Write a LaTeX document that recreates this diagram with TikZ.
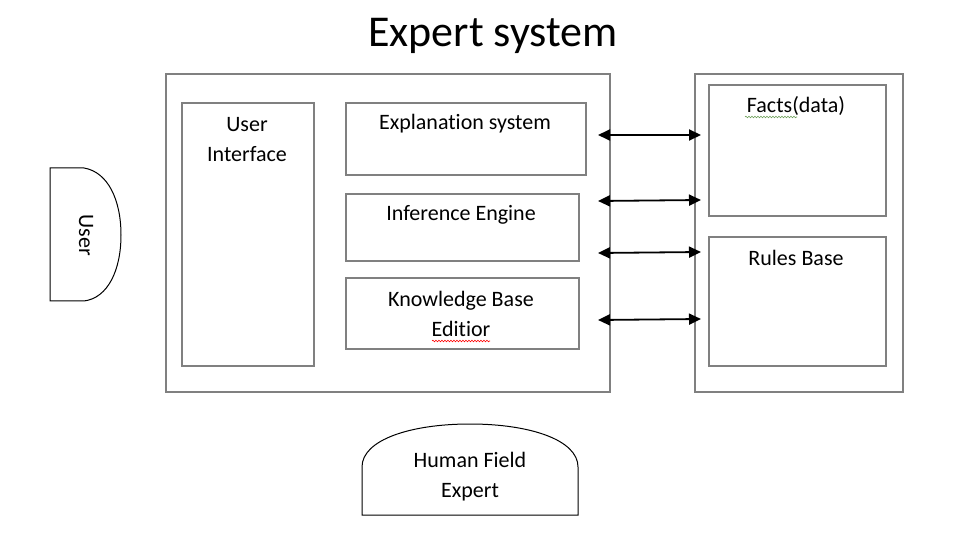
\documentclass[tikz,border=0pt]{standalone}
\usepackage{fontspec}
\setmainfont{Carlito}[Ligatures=NoCommon]
\usetikzlibrary{arrows.meta}
\usetikzlibrary{decorations.pathmorphing}
\definecolor{boxgray}{RGB}{128,128,128}
\definecolor{spellgreen}{RGB}{110,160,90}
\tikzset{box/.style={draw=boxgray,line width=1.6pt,anchor=north west,inner sep=0pt},
 lbl/.style={font=\fontsize{22}{30}\selectfont,align=center,inner sep=0pt},
 both/.style={{Triangle[length=12pt,width=11pt]}-{Triangle[length=12pt,width=11pt]},line width=1.8pt},
 squig/.style={decorate,decoration={snake,amplitude=0.8pt,segment length=3pt},line width=0.6pt},
 }

\begin{document}
\begin{tikzpicture}[x=1pt,y=-1pt]
        \useasboundingbox[fill=white] (0,0) rectangle (960,534);
        \node[font=\fontsize{44}{50}\selectfont,inner sep=0pt] (title) at (493,36) {Expert system};
        % expert system
        \node[box,minimum width=444pt,minimum height=318pt] (main) at (165,73) {};
        \node[box,minimum width=132pt,minimum height=263pt] (ui) at (181,102) {};
        \node[box,minimum width=240pt,minimum height=72pt] (expl) at (345,102) {};
        \node[box,minimum width=233pt,minimum height=67pt] (infer) at (345,193) {};
        \node[box,minimum width=233pt,minimum height=71pt] (kbe) at (345,277) {};
        \node[lbl] (uit) at (247,140) {User\\Interface};
        \node[lbl] (explt) at (465,124) {Explanation system};
        \node[lbl] (infert) at (461,215) {Inference Engine};
        \node[lbl] (kbet) at (461,314) {Knowledge Base\\Editior};
        % knowledge base
        \node[box,minimum width=208pt,minimum height=318pt] (kb) at (694,73) {};
        \node[box,minimum width=177pt,minimum height=131pt] (facts) at (708,84) {};
        \node[box,minimum width=177pt,minimum height=129pt] (rules) at (708,236) {};
        \node[lbl] (factst) at (796,106) {Facts(data)};
        \node[lbl] (rulest) at (796,258) {Rules Base};
        \draw[squig,spellgreen] (745,117) -- (797,117);
        \draw[squig,red] (432,341) -- (490,341);
        % arrows
        \coordinate (a1) at (598,135);
        \coordinate (b1) at (701,135);
        \coordinate (a2) at (598,201);
        \coordinate (b2) at (701,200);
        \coordinate (a3) at (598,253);
        \coordinate (b3) at (701,252);
        \coordinate (a4) at (598,320);
        \coordinate (b4) at (701,319);
        \foreach \i in {1,...,4}
            \draw[both] (a\i) -- (b\i);
        % user
        \draw[line width=1pt] (50,168) -- (84,168) .. controls (108,172) and (121,200) .. (121,235)
            .. controls (121,270) and (108,298) .. (84,301) -- (50,301) -- cycle;
        \node[lbl,rotate=-90] (user) at (86,235) {User};
        % human expert
        \draw[line width=1pt] (362,515) -- (362,467) .. controls (362,440) and (410,424) .. (470,424)
            .. controls (530,424) and (578,440) .. (578,467) -- (578,515) -- cycle;
        \node[lbl] (human) at (470,477) {Human Field\\Expert};
    \end{tikzpicture}
\end{document}
